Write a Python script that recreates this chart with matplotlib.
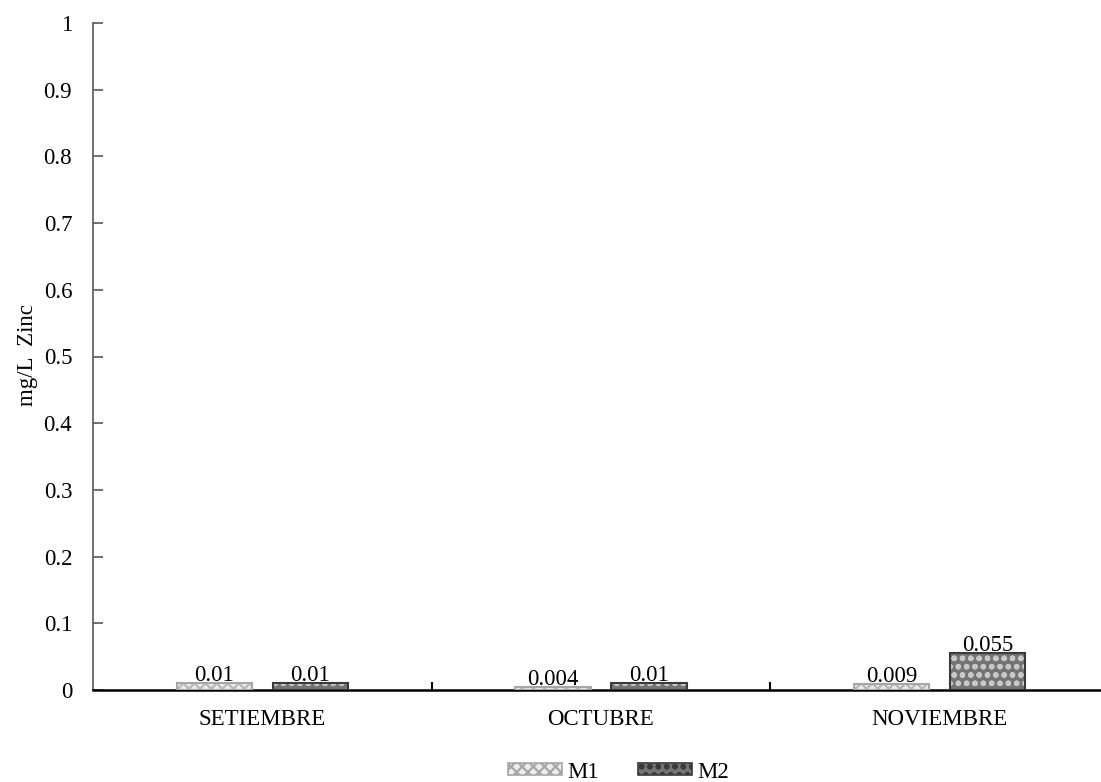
import matplotlib
matplotlib.use("Agg")
import matplotlib.pyplot as plt
import numpy as np
from matplotlib.patches import Patch

months = ["SETIEMBRE", "OCTUBRE", "NOVIEMBRE"]
m1 = [0.01, 0.004, 0.009]
m2 = [0.01, 0.01, 0.055]
m1_labels = ["0.01", "0.004", "0.009"]
m2_labels = ["0.01", "0.01", "0.055"]
yticks = [0, 0.1, 0.2, 0.3, 0.4, 0.5, 0.6, 0.7, 0.8, 0.9, 1]

FS = 16.5
plt.rcParams["font.family"] = ["Liberation Serif", "DejaVu Serif"]
plt.rcParams["font.size"] = FS
plt.rcParams["hatch.linewidth"] = 1.6

fig = plt.figure(figsize=(11.01, 7.82), dpi=100)
ax = fig.add_axes([93 / 1101, 1 - 690 / 782, (1109 - 93) / 1101, (690 - 23) / 782])

x = np.arange(len(months))
off = 0.142
w = 0.222

styles = [
    dict(vals=m1, labels=m1_labels, pos=x - off, face="#ececec", hatch="xxx",
         hcolor="#b8b8b8", edge="#a6a6a6"),
    dict(vals=m2, labels=m2_labels, pos=x + off, face="#747474", hatch="oo",
         hcolor="#c8c8c8", edge="#3a3a3a"),
]

for s in styles:
    ax.bar(s["pos"], s["vals"], w, color=s["face"], linewidth=0, zorder=2)
    ax.bar(s["pos"], s["vals"], w, color="none", edgecolor=s["hcolor"],
           hatch=s["hatch"], linewidth=0, zorder=3)
    ax.bar(s["pos"], s["vals"], w, color="none", edgecolor=s["edge"],
           linewidth=1.5, zorder=4)
    for p, v, t in zip(s["pos"], s["vals"], s["labels"]):
        ax.text(p, v - 0.004, t, ha="center", va="bottom", fontsize=FS,
                zorder=5)

ax.set_xlim(-0.5, 2.5)
ax.set_ylim(0, 1)
ax.set_yticks(yticks)
ax.set_yticklabels([f"{t:g}" for t in yticks])
ax.set_xticks(x)
ax.set_xticklabels(months)
ax.tick_params(axis="x", length=0, pad=14, labelsize=FS)
ax.tick_params(axis="y", direction="in", length=7, width=1.2, color="#595959",
               pad=15, labelsize=FS)
ax.set_xticks([0.5, 1.5], minor=True)
ax.tick_params(axis="x", which="minor", direction="in", length=6, width=1.5,
               color="black")

for side in ["top", "right"]:
    ax.spines[side].set_visible(False)
ax.spines["left"].set_color("#595959")
ax.spines["left"].set_linewidth(1.2)
ax.spines["bottom"].set_color("black")
ax.spines["bottom"].set_linewidth(1.8)

fig.text(27 / 1101, 1 - 355 / 782, "mg/L  Zinc", rotation=90, ha="center",
         va="center", fontsize=FS)

handles = [
    Patch(facecolor="#ececec", edgecolor="#a6a6a6", hatch="xxx", linewidth=1.2),
    Patch(facecolor="#747474", edgecolor="#3a3a3a", hatch="oo", linewidth=1.2),
]
fig.legend(handles, ["M1", "M2"], loc="center", bbox_to_anchor=(0.562, 1 - 772 / 782),
           ncol=2, frameon=False, handlelength=2.35, handleheight=0.45,
           columnspacing=1.7, handletextpad=0.25, fontsize=FS,
           borderpad=0.1)

fig.savefig("out.png", dpi=100)
